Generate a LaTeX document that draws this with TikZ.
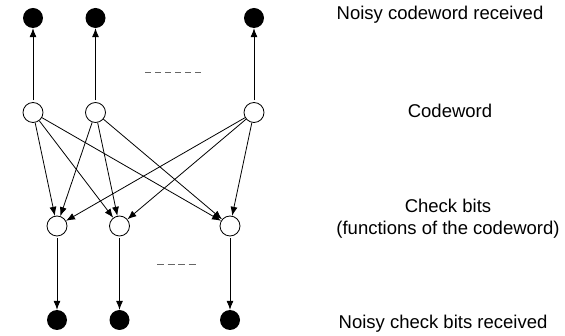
\documentclass[tikz,border=0pt]{standalone}
\usepackage{fontspec}
\setmainfont{Liberation Sans}
\usetikzlibrary{arrows.meta}
\begin{document}
\begin{tikzpicture}[x=1pt,y=-1pt,
  open/.style={circle,draw=black,line width=0.8pt,fill=white,minimum size=20pt,inner sep=0pt},
  solid/.style={circle,fill=black,minimum size=20pt,inner sep=0pt},
  edge/.style={line width=0.8pt,-{Latex[length=9pt,width=7pt]}},
  dots/.style={draw=black!60,line width=1pt,dash pattern=on 6pt off 4pt},
  lbl/.style={font=\fontsize{18.5}{22}\selectfont,align=center,inner sep=0pt}]
\useasboundingbox (0,0) rectangle (565,336);
% received codeword symbols
\node[solid] (r1) at (33,18) {};
\node[solid] (r2) at (95.5,18) {};
\node[solid] (r3) at (254,18) {};
% codeword symbols
\node[open] (c1) at (33,112.5) {};
\node[open] (c2) at (95.5,112.5) {};
\node[open] (c3) at (254,112.5) {};
% check bits
\node[open] (k1) at (57,226) {};
\node[open] (k2) at (119.5,226) {};
\node[open] (k3) at (230,226) {};
% received check bits
\node[solid] (s1) at (57,320) {};
\node[solid] (s2) at (119.5,320) {};
\node[solid] (s3) at (230,320) {};
% channel
\foreach \i in {1,2,3} {
  \draw[edge,shorten <=2pt] (c\i) -- (r\i);
  \draw[edge,shorten <=2pt] (k\i) -- (s\i);
}
% parity connections
\foreach \i in {1,2,3} \foreach \j in {1,2,3} {
  \draw[edge] (c\i) -- (k\j);
}
% ellipses
\coordinate (d1) at (145,73);
\coordinate (d2) at (204,73);
\draw[dots] (d1) -- (d2);
\coordinate (e1) at (157,265);
\coordinate (e2) at (198,265);
\draw[dots,dash pattern=on 7pt off 3.5pt] (e1) -- (e2);
% labels
\node[lbl] (t1) at (440,15) {Noisy codeword received};
\node[lbl] (t2) at (450,111) {Codeword};
\node[lbl] (t3) at (448,219) {Check bits\\(functions of the codeword)};
\node[lbl] (t4) at (443,324) {Noisy check bits received};
\end{tikzpicture}
\end{document}
